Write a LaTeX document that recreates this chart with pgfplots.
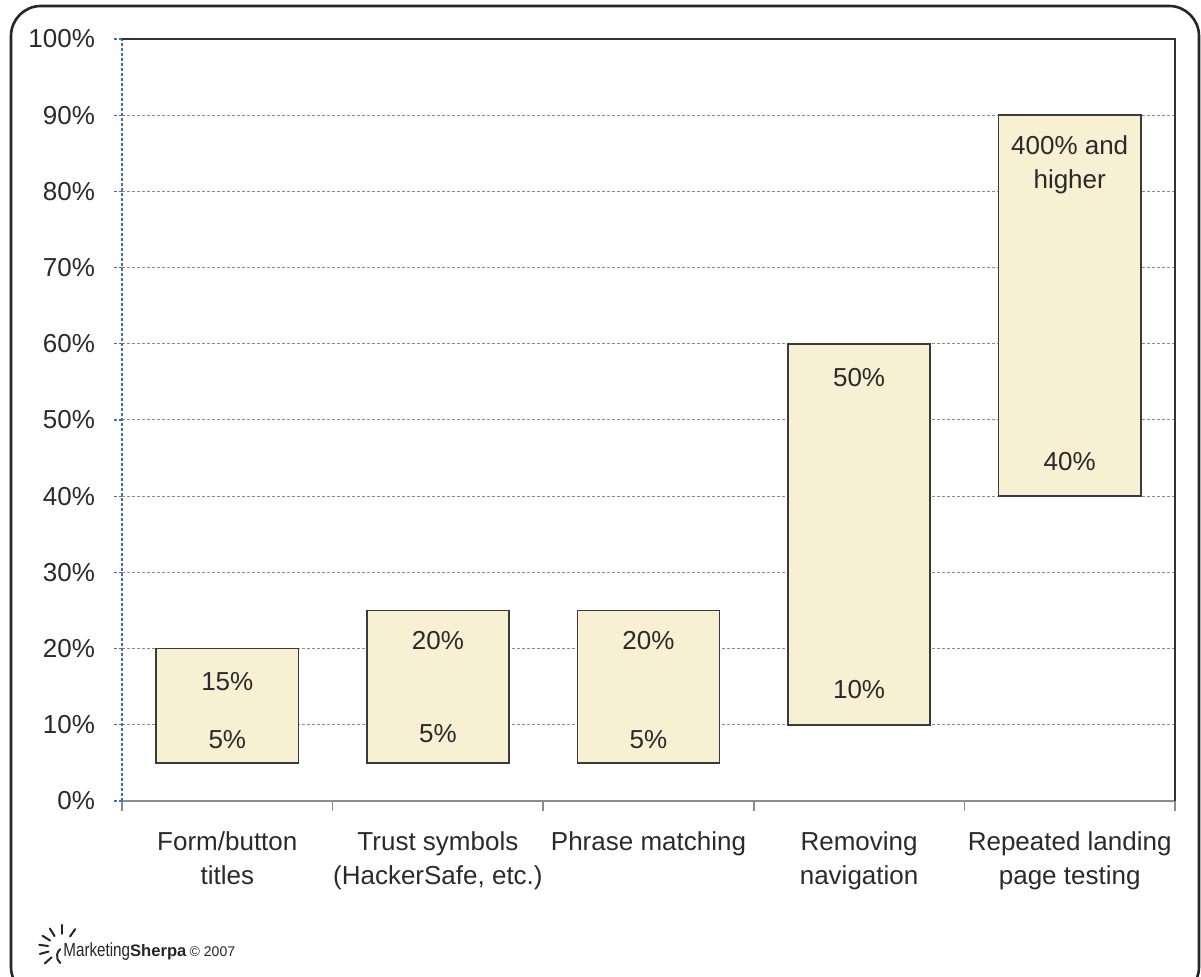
\documentclass[border=0pt]{standalone}
\usepackage{fontspec}
\setmainfont{Liberation Sans}
\usepackage{graphicx}
\usepackage{pgfplots}
\pgfplotsset{compat=1.18}

\definecolor{barfill}{HTML}{F7F0D3}
\definecolor{baredge}{HTML}{3A3A3A}
\definecolor{axblue}{HTML}{3C6FC0}
\definecolor{gridgray}{HTML}{8C8C8C}
\definecolor{labeltext}{HTML}{2A2A2A}

\pgfplotsset{
  frame/.style={at={(61pt,88pt)}, anchor=south west,
    scale only axis, width=526.5pt, height=381pt,
    xmin=-0.5, xmax=4.5, ymin=0, ymax=100, clip=false},
}
\tikzset{barlabel/.style={font=\fontsize{13}{17}\selectfont, text=labeltext, align=center}}

\begin{document}
\begin{tikzpicture}
% page = 1201x977 px, 1 px = 0.5pt
\useasboundingbox (0,0) rectangle (600.5pt,488.5pt);
\begin{scope}
  \clip (0,0) rectangle (600.5pt,488.5pt);
  \draw[line width=1.3pt, rounded corners=15pt, black!85] (5.5pt,-10pt) rectangle (599.5pt,485.5pt);
\end{scope}

\begin{axis}[
    frame,
    axis x line*=bottom, axis y line*=left,
    x axis line style={gridgray, line width=0.8pt, -},
    y axis line style={axblue, dash pattern=on 1.5pt off 1pt, line width=0.6pt, -},
    tick align=outside,
    major tick length=4pt, minor tick length=5pt,
    ytick={0,10,...,100},
    yticklabel={\pgfmathprintnumber{\tick}\%},
    yticklabel style={font=\fontsize{13}{15}\selectfont, text=labeltext, xshift=-6pt},
    every major y tick/.append style={axblue, dash pattern=on 1.5pt off 1pt, line width=0.6pt},
    ymajorgrids,
    grid style={gridgray, dash pattern=on 1.5pt off 1pt, line width=0.5pt},
    xtick={0,...,4},
    xticklabels={{Form/button\\titles}, {Trust symbols\\(HackerSafe, etc.)}, {Phrase matching}, {Removing\\navigation}, {Repeated landing\\page testing}},
    xticklabel style={align=center, anchor=north, text=labeltext, yshift=-8pt,
        font=\fontsize{13}{17}\selectfont},
    every major x tick/.append style={draw=none},
    minor xtick={-0.5,0.5,...,4.5},
    every minor x tick/.append style={gridgray, line width=0.8pt},
    ybar stacked, bar width=0.675,
    /pgf/number format/assume math mode=true,
]
% low end (invisible) + span of each range
\addplot[draw=none, fill=none] coordinates {(0,5) (1,5) (2,5) (3,10) (4,40)};
\addplot[fill=barfill, draw=baredge, line width=0.8pt] coordinates {(0,15) (1,20) (2,20) (3,50) (4,50)};
\draw[black!80, line width=0.8pt] (rel axis cs:0,1) -- (rel axis cs:1,1) -- (rel axis cs:1,0);
\end{axis}

% labels inside the bars, on an overlaid axis so they sit above the fills
\begin{axis}[frame, hide axis]
\node[barlabel] at (axis cs:0,15.7) {15\%};
\node[barlabel] at (axis cs:0,8.1) {5\%};
\node[barlabel] at (axis cs:1,21.1) {20\%};
\node[barlabel] at (axis cs:1,8.9) {5\%};
\node[barlabel] at (axis cs:2,21.1) {20\%};
\node[barlabel] at (axis cs:2,8.1) {5\%};
\node[barlabel] at (axis cs:3,55.6) {50\%};
\node[barlabel] at (axis cs:3,14.6) {10\%};
\node[barlabel] at (axis cs:4,83.5) {400\% and\\higher};
\node[barlabel] at (axis cs:4,44.5) {40\%};
\end{axis}

% MarketingSherpa logo
\begin{scope}[line width=1pt, black!85, line cap=round]
  \foreach \a in {55,90,122,148,172,195,222}
    \draw (31pt,14.5pt) ++(\a:7pt) -- ++(\a:4.5pt);
  \draw (30.1pt,7pt) arc[start angle=230, end angle=130, radius=4.5pt];
\end{scope}
\node[anchor=base west, inner sep=0pt, text=black!85] at (31.5pt,10pt)
  {\scalebox{0.8}[1]{\fontsize{9.5}{10}\selectfont Marketing}{\fontsize{8.3}{10}\selectfont\bfseries Sherpa}\,{\fontsize{7}{10}\selectfont\textcopyright\ 2007}};
\end{tikzpicture}
\end{document}
